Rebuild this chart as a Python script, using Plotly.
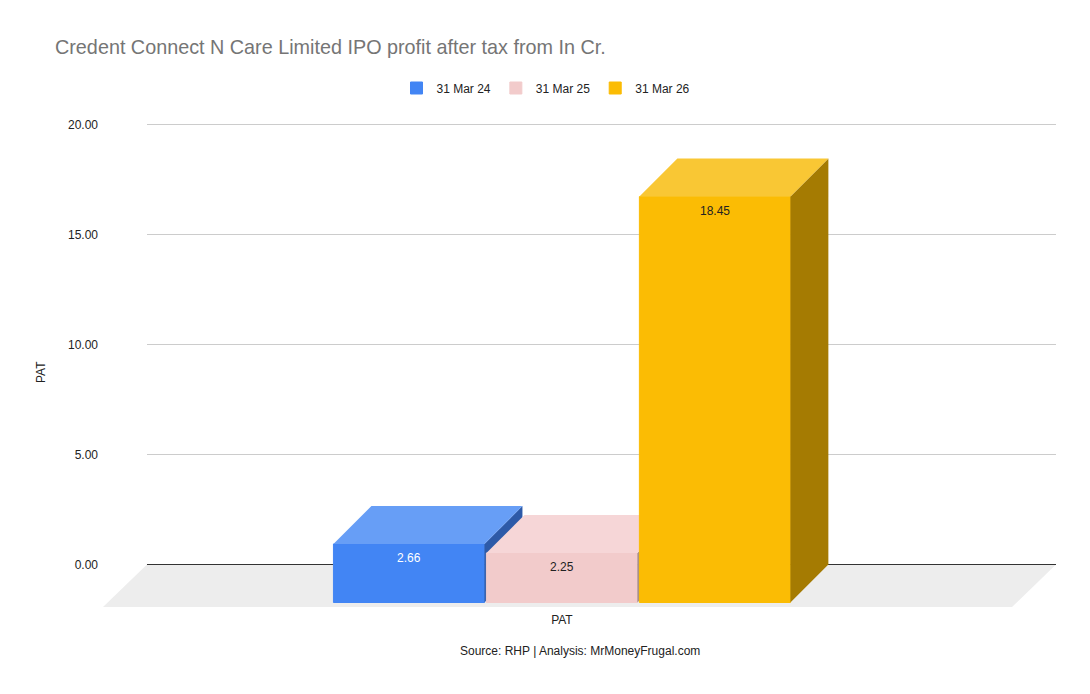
import plotly.graph_objects as go

series = ["31 Mar 24", "31 Mar 25", "31 Mar 26"]
pat = [2.66, 2.25, 18.45]
category = "PAT"
y_ticks = [0, 5, 10, 15, 20]

front_colors = ["#4285F4", "#F2CBCB", "#FBBC04"]
top_colors = ["#679EF6", "#F6D6D7", "#F9C734"]
side_colors = ["#2D5AA8", "#A38C8C", "#A57B02"]
label_colors = ["#FFFFFF", "#222222", "#222222"]

# page has an 8px body margin, so the figure is a bit smaller than the window
W, H = 1082, 686
ML, MT = 95, 102
plot_w, plot_h = 953, 497

# fake 3d: depth offset of every bar, in axis units (153 px per x unit, 22 px per y unit)
dx = 38 / 153
dy = 38 / 22
half = 0.4935
x_range = [-2.0, 4.23]
y_range = [-1.932, 20.659]
floor_dx = 44 / 153

fig = go.Figure()

for i, (name, v) in enumerate(zip(series, pat)):
    n = "" if i == 0 else str(i + 1)
    xa, ya = "x" + n, "y" + n
    left, right = i - half, i + half
    # side face
    fig.add_trace(go.Scatter(
        x=[right, right + dx, right + dx, right, right],
        y=[v - dy, v, 0, -dy, v - dy],
        fill="toself", fillcolor=side_colors[i], mode="lines",
        line=dict(width=0), showlegend=False, hoverinfo="skip",
        xaxis=xa, yaxis=ya,
    ))
    # top face
    fig.add_trace(go.Scatter(
        x=[left, left + dx, right + dx, right, left],
        y=[v - dy, v, v, v - dy, v - dy],
        fill="toself", fillcolor=top_colors[i], mode="lines",
        line=dict(width=0), showlegend=False, hoverinfo="skip",
        xaxis=xa, yaxis=ya,
    ))
    # front face
    fig.add_trace(go.Bar(
        x=[i], y=[v], base=[-dy], width=2 * half, name=name,
        marker=dict(color=front_colors[i], line=dict(width=1, color=front_colors[i])),
        xaxis=xa, yaxis=ya,
    ))

shapes = [dict(
    type="path", xref="x", yref="y", layer="below",
    path=f"M{x_range[0] + floor_dx},0 L{x_range[1]},0 "
         f"L{x_range[1] - floor_dx},{y_range[0]} L{x_range[0]},{y_range[0]} Z",
    fillcolor="#EDEDED", line=dict(width=0),
)]
for t in y_ticks:
    shapes.append(dict(
        type="line", xref="x", yref="y", layer="below",
        x0=x_range[0] + floor_dx, x1=x_range[1], y0=t, y1=t,
        line=dict(color="#333333" if t == 0 else "#CCCCCC", width=1),
    ))

annotations = [
    dict(text="PAT", textangle=-90, xref="paper", yref="paper",
         x=(41 - 103) / plot_w, y=(607 - 372) / plot_h, showarrow=False,
         xanchor="center", yanchor="middle",
         font=dict(size=12, color="#222222")),
    dict(text="Source: RHP | Analysis: MrMoneyFrugal.com", xref="paper",
         yref="paper", x=(580 - 103) / plot_w, y=(607 - 651) / plot_h,
         xanchor="center", yanchor="middle", showarrow=False,
         font=dict(size=12, color="#222222")),
]
for i, v in enumerate(pat):
    annotations.append(dict(
        text=f"{v:.2f}", x=i, y=v - dy, xref="x", yref="y",
        yanchor="top", yshift=-5, showarrow=False,
        font=dict(size=12, color=label_colors[i]),
    ))

axis_hidden = dict(range=x_range, visible=False, overlaying="x")
yaxis_hidden = dict(range=y_range, visible=False, overlaying="y")

fig.update_layout(
    width=W, height=H,
    margin=dict(l=ML, r=W - ML - plot_w, t=MT, b=H - MT - plot_h),
    paper_bgcolor="white", plot_bgcolor="white",
    font=dict(family="Liberation Sans, Arial, sans-serif", size=12, color="#222222"),
    title=dict(
        text="Credent Connect N Care Limited IPO profit after tax from In Cr.",
        x=(55 - 8) / W, xanchor="left", y=1 - (47 - 8) / H, yanchor="middle",
        font=dict(size=19.8, color="#757575"),
    ),
    legend=dict(
        orientation="h", x=(546 - 103) / plot_w, xanchor="center",
        y=(607 - 88) / plot_h, yanchor="middle",
        font=dict(size=12, color="#222222"),
    ),
    xaxis=dict(
        range=x_range, showgrid=False, zeroline=False, showline=False,
        tickvals=[1], ticktext=[category], ticks="", ticklabelstandoff=4,
    ),
    yaxis=dict(
        range=y_range, showgrid=False, zeroline=False, showline=False,
        tickvals=y_ticks, tickformat=".2f", ticks="", ticklabelstandoff=4,
    ),
    xaxis2=axis_hidden, yaxis2=yaxis_hidden,
    xaxis3=axis_hidden, yaxis3=yaxis_hidden,
    shapes=shapes,
    annotations=annotations,
)

fig.write_html("out.html")
